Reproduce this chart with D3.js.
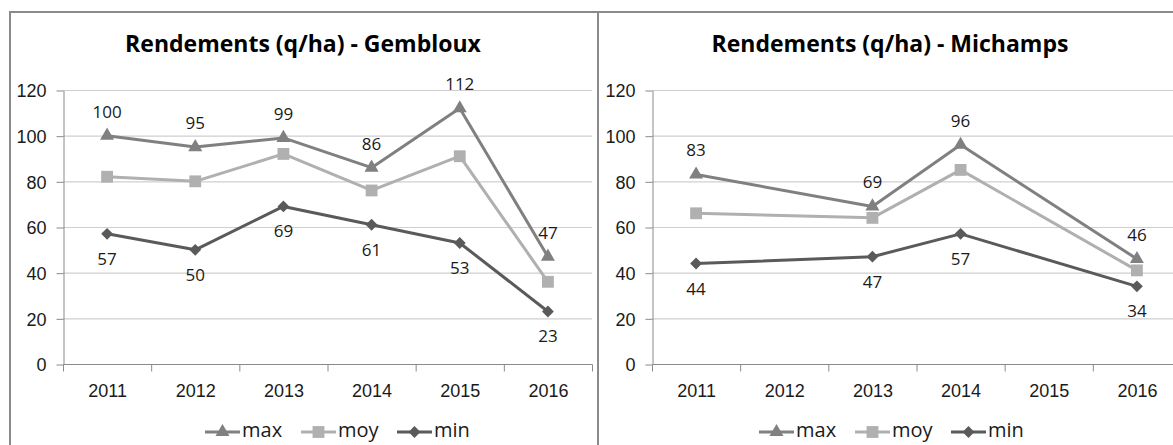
<!DOCTYPE html>
<html>
<head>
<meta charset="utf-8">
<script src="https://cdn.jsdelivr.net/npm/d3@7"></script>
<style>
  body { margin: 0; background: #fff; }
  svg { display: block; font-family: "Open Sans", "DejaVu Sans", sans-serif; }
  .tick text { fill: #1a1a1a; }
</style>
</head>
<body>
<script>
var years = ["2011", "2012", "2013", "2014", "2015", "2016"];
var yTicks = [0, 20, 40, 60, 80, 100, 120];
var seriesNames = ["max", "moy", "min"];

// Gembloux
var gemMax = [100, 95, 99, 86, 112, 47];
var gemMoy = [82, 80, 92, 76, 91, 36];
var gemMin = [57, 50, 69, 61, 53, 23];

// Michamps (2012 et 2015 manquants)
var micMax = [83, null, 69, 96, null, 46];
var micMoy = [66, null, 64, 85, null, 41];
var micMin = [44, null, 47, 57, null, 34];

var width = 1173, height = 445;
var colors = {max: "#808080", moy: "#b0b0b0", min: "#5a5a5a"};

var svg = d3.select("body").append("svg")
  .attr("width", width)
  .attr("height", height);

function marker(name) {
  if (name == "max") return d3.symbol().type(d3.symbolTriangle).size(85)();
  if (name == "moy") return d3.symbol().type(d3.symbolSquare).size(140)();
  return d3.symbol().type(d3.symbolSquare).size(70)();
}
function markerRot(name) { return name == "min" ? " rotate(45)" : ""; }

function drawChart(opts) {
  var g = svg.append("g");

  // cadre
  g.append("rect")
    .attr("x", opts.frame[0]).attr("y", 12)
    .attr("width", opts.frame[1] - opts.frame[0]).attr("height", 480)
    .attr("fill", "none").attr("stroke", "#8a8a8a").attr("stroke-width", 2);

  g.append("text")
    .attr("x", opts.titleX).attr("y", 52)
    .attr("text-anchor", "middle")
    .style("font-size", "23px").style("font-weight", "bold")
    .attr("fill", "#000")
    .text(opts.title);

  var x = d3.scaleBand().domain(years).range([opts.x0, opts.x0 + 529]);
  var y = d3.scaleLinear().domain([0, 120]).range([364, 90]);
  var cx = function(i) { return x(years[i]) + x.bandwidth() / 2; };

  // grille
  g.append("g").selectAll("line")
    .data(yTicks.slice(1))
    .enter().append("line")
    .attr("x1", opts.x0).attr("x2", opts.x0 + 529)
    .attr("y1", function(d) { return y(d) + 0.5; })
    .attr("y2", function(d) { return y(d) + 0.5; })
    .attr("stroke", "#cfcfcf").attr("stroke-width", 1.2);

  var yAxis = g.append("g")
    .attr("transform", "translate(" + (opts.x0 + 0.5) + ",0.5)")
    .call(d3.axisLeft(y).tickValues(yTicks).tickSize(7).tickPadding(10).tickSizeOuter(0));
  yAxis.selectAll("text").style("font-size", "18px").attr("dy", "0.36em");

  var xAxis = g.append("g")
    .attr("transform", "translate(0.5," + (364.5) + ")")
    .call(d3.axisBottom(x).tickSize(0).tickPadding(20));
  xAxis.selectAll("text").style("font-size", "18px");
  xAxis.select(".domain").attr("d", "M" + opts.x0 + ",0H" + (opts.x0 + 529));
  xAxis.append("g").selectAll("line")
    .data(d3.range(7))
    .enter().append("line")
    .attr("x1", function(i) { return opts.x0 + i * x.bandwidth(); })
    .attr("x2", function(i) { return opts.x0 + i * x.bandwidth(); })
    .attr("y1", 0).attr("y2", 7)
    .attr("stroke", "#8a8a8a");
  g.selectAll(".domain, .tick line").attr("stroke", "#8a8a8a");

  var line = d3.line()
    .x(function(d) { return cx(d.i); })
    .y(function(d) { return y(d.v); });

  seriesNames.forEach(function(name, k) {
    var pts = opts.data[k]
      .map(function(v, i) { return {v: v, i: i}; })
      .filter(function(d) { return d.v != null; });

    g.append("path")
      .datum(pts)
      .attr("d", line)
      .attr("fill", "none")
      .attr("stroke", colors[name])
      .attr("stroke-width", 3)
      .attr("stroke-linejoin", "round");

    g.append("g").selectAll("path")
      .data(pts)
      .enter().append("path")
      .attr("d", marker(name))
      .attr("transform", function(d) { return "translate(" + cx(d.i) + "," + y(d.v) + ")" + markerRot(name); })
      .attr("fill", colors[name]);

    if (name != "moy") {
      g.append("g").selectAll("text")
        .data(pts)
        .enter().append("text")
        .attr("x", function(d) { return cx(d.i); })
        .attr("y", function(d) { return name == "max" ? y(d.v) - 18 : y(d.v) + 31; })
        .attr("text-anchor", "middle")
        .style("font-size", "17px")
        .attr("fill", "#1a1a1a")
        .text(function(d) { return d.v; });
    }
  });

  // légende
  var lg = g.append("g").attr("transform", "translate(" + opts.legendX + ",432)");
  var offs = [0, 96, 192];
  seriesNames.forEach(function(name, k) {
    var it = lg.append("g").attr("transform", "translate(" + offs[k] + ",0)");
    it.append("line").attr("x1", 0).attr("x2", 35)
      .attr("stroke", colors[name]).attr("stroke-width", 3);
    it.append("path").attr("d", marker(name))
      .attr("transform", "translate(17.5,0)" + markerRot(name))
      .attr("fill", colors[name]);
    it.append("text").attr("x", 37).attr("y", 5)
      .style("font-size", "20px").attr("fill", "#1a1a1a")
      .text(name);
  });
}

drawChart({
  title: "Rendements (q/ha) - Gembloux",
  frame: [10, 598], titleX: 303, x0: 63, legendX: 205,
  data: [gemMax, gemMoy, gemMin]
});
drawChart({
  title: "Rendements (q/ha) - Michamps",
  frame: [598, 1200], titleX: 890, x0: 652, legendX: 759,
  data: [micMax, micMoy, micMin]
});
</script>
</body>
</html>
